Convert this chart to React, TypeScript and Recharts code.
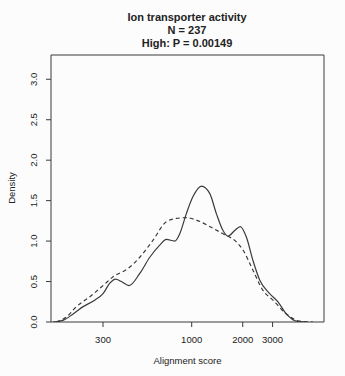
import React from "react";
import {
  LineChart,
  Line,
  XAxis,
  YAxis,
  ReferenceArea,
} from "recharts";

const solidScore = [152, 174, 200, 229, 268, 300, 329, 356, 385, 427, 494, 566, 648, 709, 794, 850, 930, 1018, 1141, 1277, 1398, 1530, 1637, 1792, 1937, 2101, 2298, 2517, 2884, 3227, 3617, 4143, 4747];
const solidDensity = [0, 0.02, 0.1, 0.19, 0.27, 0.35, 0.48, 0.53, 0.5, 0.45, 0.6, 0.8, 0.95, 1.02, 1.0, 1.09, 1.34, 1.55, 1.68, 1.59, 1.34, 1.13, 1.06, 1.13, 1.18, 1.05, 0.76, 0.52, 0.35, 0.25, 0.1, 0.01, 0];

const dashScore = [159, 182, 209, 250, 300, 344, 421, 494, 591, 709, 812, 930, 1066, 1277, 1530, 1834, 2007, 2298, 2633, 3015, 3617, 4334, 5190];
const dashDensity = [0, 0.06, 0.19, 0.31, 0.45, 0.56, 0.66, 0.8, 1.01, 1.24, 1.28, 1.29, 1.26, 1.18, 1.09, 0.99, 0.89, 0.64, 0.39, 0.27, 0.1, 0.01, 0];

const xTicks = [300, 1000, 2000, 3000];
const yTicks = [0, 0.5, 1, 1.5, 2, 2.5, 3];
const xDomain = [148, 6030];
const yDomain = [0, 3.3];

const titleLines = ["Ion transporter activity", "N = 237", "High: P = 0.00149"];

const solidData = solidScore.map((x, i) => ({ x, y: solidDensity[i] }));
const dashData = dashScore.map((x, i) => ({ x, y: dashDensity[i] }));

const FONT = '"Liberation Sans", Arial, Helvetica, sans-serif';
const INK = "#3a3a3a";

function YTick(props: any) {
  const { y, payload } = props;
  const x = 37;
  return (
    <text
      x={x}
      y={y}
      transform={`rotate(-90 ${x} ${y})`}
      textAnchor="middle"
      fontSize={9.5}
      fontFamily={FONT}
      fill="#222"
    >
      {payload.value.toFixed(1)}
    </text>
  );
}

export default function App() {
  return (
    <div
      style={{
        position: "absolute",
        left: 0,
        top: 0,
        width: 345,
        height: 376,
        background: "#fcfcfc",
        fontFamily: FONT,
        color: "#222",
      }}
    >
      {titleLines.map((t, i) => (
        <div
          key={t}
          style={{
            position: "absolute",
            left: 0,
            width: 374,
            top: 11 + i * 13,
            textAlign: "center",
            fontWeight: "bold",
            fontSize: 11,
            lineHeight: "13px",
          }}
        >
          {t}
        </div>
      ))}
      <LineChart
        width={345}
        height={376}
        margin={{ top: 55, right: 21, left: 0, bottom: 0 }}
      >
        <XAxis
          dataKey="x"
          type="number"
          scale="log"
          domain={xDomain}
          allowDataOverflow
          ticks={xTicks}
          axisLine={false}
          tickLine={{ stroke: INK }}
          tickSize={5}
          tickMargin={9}
          height={54}
          tick={{ fontSize: 9.5, fontFamily: FONT, fill: "#222" }}
          interval={0}
        />
        <YAxis
          type="number"
          domain={yDomain}
          ticks={yTicks}
          allowDataOverflow
          axisLine={false}
          tickLine={{ stroke: INK }}
          tickSize={5}
          width={51}
          tick={<YTick />}
          interval={0}
        />
        <ReferenceArea
          x1={xDomain[0]}
          x2={xDomain[1]}
          y1={yDomain[0]}
          y2={yDomain[1]}
          fill="none"
          fillOpacity={0}
          stroke={INK}
          strokeWidth={1}
          ifOverflow="visible"
        />
        <Line
          data={dashData}
          dataKey="y"
          type="monotone"
          stroke={INK}
          strokeWidth={1.2}
          strokeDasharray="4 3"
          dot={false}
          isAnimationActive={false}
        />
        <Line
          data={solidData}
          dataKey="y"
          type="monotone"
          stroke={INK}
          strokeWidth={1.2}
          dot={false}
          isAnimationActive={false}
        />
      </LineChart>
      <div
        style={{
          position: "absolute",
          left: 0,
          width: 375,
          top: 355,
          textAlign: "center",
          fontSize: 9.5,
          lineHeight: "12px",
        }}
      >
        Alignment score
      </div>
      <div
        style={{
          position: "absolute",
          left: 12,
          top: 188,
          fontSize: 9.5,
          lineHeight: "12px",
          whiteSpace: "nowrap",
          transform: "translate(-50%, -50%) rotate(-90deg)",
        }}
      >
        Density
      </div>
    </div>
  );
}
